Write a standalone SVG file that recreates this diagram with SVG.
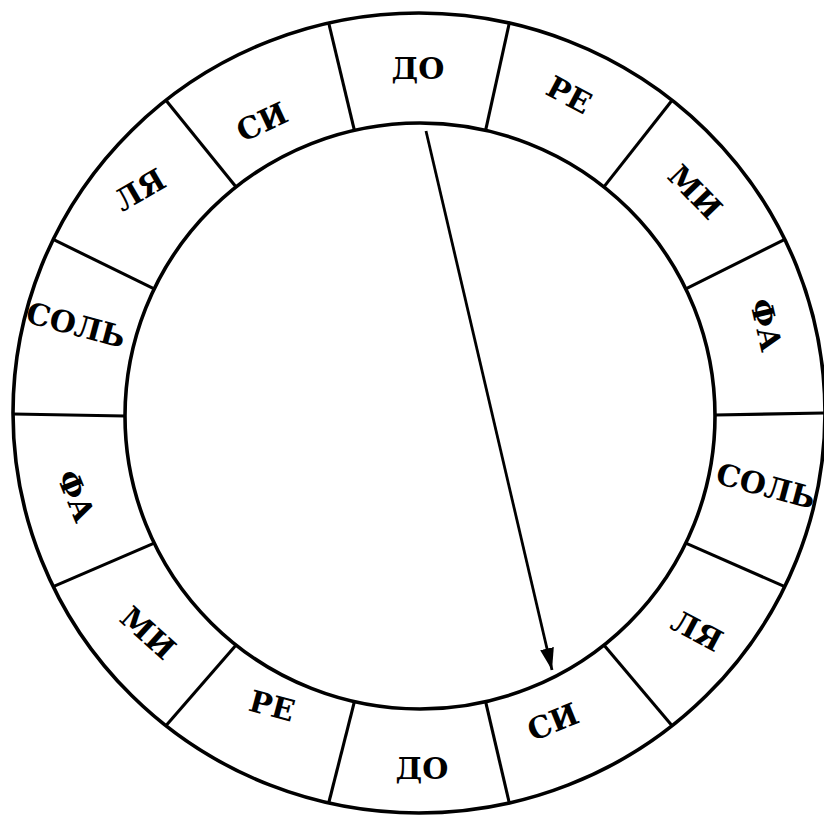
<svg xmlns="http://www.w3.org/2000/svg" width="824" height="818" viewBox="0 0 824 818">
<style>
.ring{fill:none;stroke:#000;stroke-width:3.6}
.div{stroke:#000;stroke-width:3.1;fill:none}
.lbl{font-family:"DejaVu Serif","Liberation Serif",serif;font-weight:bold;font-size:30px;fill:#000;text-anchor:middle;dominant-baseline:central}
.arr{stroke:#000;stroke-width:2.8;fill:none}
</style>
<defs>
<marker id="ah" markerUnits="userSpaceOnUse" markerWidth="24" markerHeight="16" refX="22" refY="7" orient="auto">
<path d="M0,0 L22,7 L0,14 Z" fill="#000"/>
</marker>
</defs>
<rect width="824" height="818" fill="#fff"/>
<g id="ring">
<ellipse class="ring" cx="419" cy="413" rx="406" ry="400"/>
<ellipse class="ring" cx="420" cy="416" rx="295" ry="293"/>
</g>
<g id="dividers">
<line class="div" x1="715" y1="415" x2="825" y2="413"/>
<line class="div" x1="685.8" y1="288.9" x2="784.8" y2="239.4"/>
<line class="div" x1="603.9" y1="186.9" x2="672.1" y2="100.3"/>
<line class="div" x1="485.6" y1="130.3" x2="509.3" y2="23"/>
<line class="div" x1="354.4" y1="130.3" x2="328.7" y2="23"/>
<line class="div" x1="236.1" y1="186.9" x2="165.9" y2="100.3"/>
<line class="div" x1="154.2" y1="288.9" x2="53.2" y2="239.4"/>
<line class="div" x1="125" y1="416" x2="13" y2="414"/>
<line class="div" x1="154.2" y1="543.1" x2="53.2" y2="586.6"/>
<line class="div" x1="236.1" y1="645.1" x2="165.9" y2="725.7"/>
<line class="div" x1="354.4" y1="701.7" x2="328.7" y2="803"/>
<line class="div" x1="485.6" y1="701.7" x2="509.3" y2="803"/>
<line class="div" x1="603.9" y1="645.1" x2="672.1" y2="725.7"/>
<line class="div" x1="685.8" y1="543.1" x2="784.8" y2="586.6"/>
</g>
<g id="n-do-top"><text class="lbl" transform="translate(418,68)">ДО</text></g>
<g id="n-re-top"><text class="lbl" transform="translate(569,95) rotate(28)">РЕ</text></g>
<g id="n-mi-top"><text class="lbl" transform="translate(695,192) rotate(46)">МИ</text></g>
<g id="n-fa-right"><text class="lbl" transform="translate(766,325) rotate(77)">ФА</text></g>
<g id="n-sol-right"><text class="lbl" transform="translate(766,486) rotate(15)">СОЛЬ</text></g>
<g id="n-la-right"><text class="lbl" transform="translate(697,631) rotate(28)">ЛЯ</text></g>
<g id="n-si-right"><text class="lbl" transform="translate(553,722) rotate(-22)">СИ</text></g>
<g id="n-do-bottom"><text class="lbl" transform="translate(422,768)">ДО</text></g>
<g id="n-re-bottom"><text class="lbl" transform="translate(272,706) rotate(15)">РЕ</text></g>
<g id="n-mi-bottom"><text class="lbl" transform="translate(148,633) rotate(42)">МИ</text></g>
<g id="n-fa-left"><text class="lbl" transform="translate(76,496) rotate(68)">ФА</text></g>
<g id="n-sol-left"><text class="lbl" transform="translate(76,325) rotate(15)">СОЛЬ</text></g>
<g id="n-la-left"><text class="lbl" transform="translate(140,190) rotate(-30)">ЛЯ</text></g>
<g id="n-si-left"><text class="lbl" transform="translate(262,122) rotate(-25)">СИ</text></g>
<g id="connectors">
<line class="arr" x1="426" y1="131" x2="552" y2="670" marker-end="url(#ah)"/>
</g>
</svg>
